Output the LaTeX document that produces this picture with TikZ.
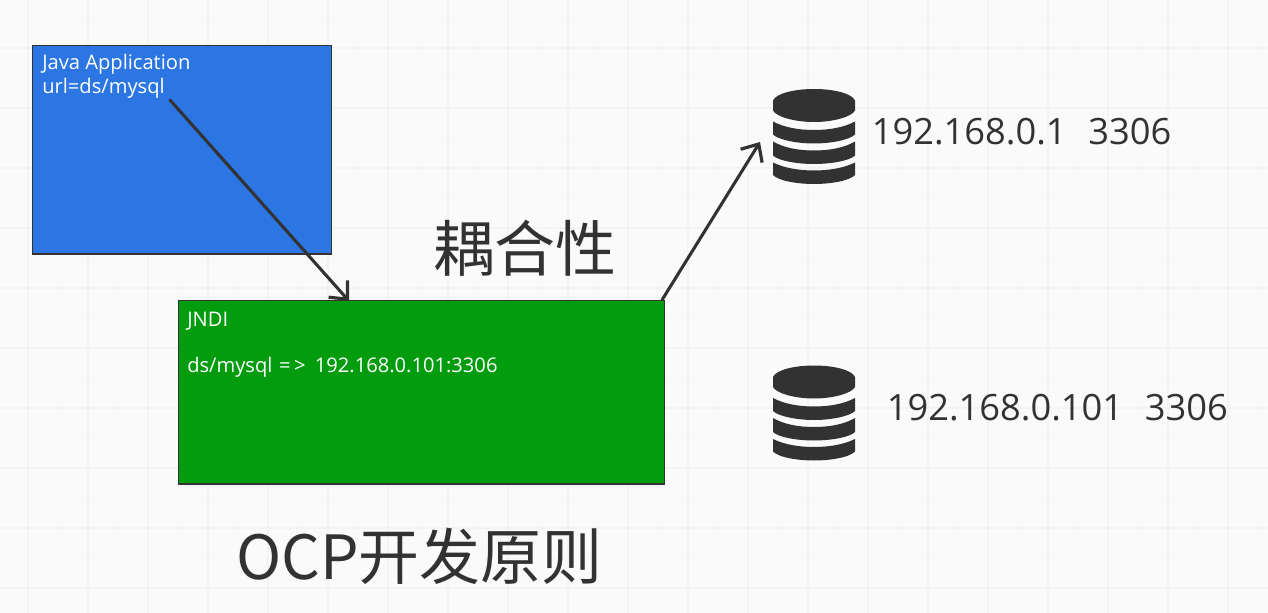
\documentclass[tikz,border=0pt]{standalone}
\usepackage{fontspec}
\setmainfont{Open Sans}
\newfontfamily\cjk{Noto Sans CJK SC}
\usetikzlibrary{arrows.meta}

\definecolor{inkgrey}{HTML}{323232}
\definecolor{appblue}{HTML}{2B76E3}
\definecolor{jndigreen}{HTML}{029C0E}
\definecolor{paper}{HTML}{FAFAFA}
\definecolor{gridminor}{HTML}{F7F7F7}
\definecolor{gridmajor}{HTML}{F3F3F3}

\tikzset{
    box/.style={draw=inkgrey, line width=1pt, anchor=north west, inner sep=0pt, outer sep=0pt},
    boxtext/.style={anchor=base west, inner sep=0pt, text=white, font=\fontsize{15.1}{17}\selectfont},
    iptext/.style={anchor=base west, inner sep=0pt, text=inkgrey, font=\fontsize{27.2}{32}\selectfont},
    bigtext/.style={anchor=base west, inner sep=0pt, text=inkgrey, font=\cjk\fontsize{45.7}{54}\selectfont},
    link/.style={draw=inkgrey, line width=2.3pt, line cap=round, -{Straight Barb[length=10.5pt, width=19pt, line width=2.4pt]}},
    dbicon/.pic={
        \fill[inkgrey] (-41,-5) .. controls (-38,-12) and (-20,-16.5) .. (0,-16.5) .. controls (20,-16.5) and (38,-12) .. (41,-5)
            -- (41,5) .. controls (38,11) and (20,16.5) .. (0,16.5) .. controls (-20,16.5) and (-38,11) .. (-41,5) -- cycle;
        \fill[inkgrey] (-41,16) .. controls (-30,22) and (-15,24.5) .. (0,24.5) .. controls (15,24.5) and (30,22) .. (41,16)
            -- (41,29) .. controls (36,34) and (18,38) .. (0,38) .. controls (-18,38) and (-36,34) .. (-41,29) -- cycle;
        \fill[inkgrey] (-41,36) .. controls (-30,42.5) and (-15,45) .. (0,45) .. controls (15,45) and (30,42.5) .. (41,36)
            -- (41,50) .. controls (36,55) and (18,58.5) .. (0,58.5) .. controls (-18,58.5) and (-36,55) .. (-41,50) -- cycle;
        \fill[inkgrey] (-41,57) .. controls (-30,62.5) and (-15,65) .. (0,65) .. controls (15,65) and (30,62.5) .. (41,57)
            -- (41,69.5) .. controls (36,75) and (18,78.5) .. (0,78.5) .. controls (-18,78.5) and (-36,75) .. (-41,69.5) -- cycle;
    },
}

\begin{document}
\begin{tikzpicture}[x=0.75pt, y=-0.75pt]

    % page and grid
    \fill[paper] (0,0) rectangle (1268,613);
    \useasboundingbox (0,0) rectangle (1268,613);
    \foreach \gx in {-2,58,...,1258} {
        \draw[gridminor, line width=0.75pt] (\gx,0) -- (\gx,613);
    }
    \foreach \gy in {18,78,...,600} {
        \draw[gridminor, line width=0.75pt] (0,\gy) -- (1268,\gy);
    }
    \foreach \gx in {28,88,...,1258} {
        \draw[gridmajor, line width=1pt] (\gx,0) -- (\gx,613);
    }
    \foreach \gy in {48,108,...,600} {
        \draw[gridmajor, line width=1pt] (0,\gy) -- (1268,\gy);
    }

    % boxes
    \node[box, fill=appblue, minimum width=224.25pt, minimum height=156.4pt] (app) at (32.5,45.5) {};
    \node[box, fill=jndigreen, minimum width=364.5pt, minimum height=137.6pt] (jndi) at (178.5,300.5) {};

    \node[boxtext] (appname) at (42,70) {Java Application};
    \node[boxtext] (appurl) at (42,94) {url=ds/mysql};
    \node[boxtext] (jndiname) at (187,326) {JNDI};
    \node[boxtext] (jndimap) at (187,372) {ds/mysql\hspace{5pt}=\hspace{2.5pt}>\hspace{7pt}192.168.0.101:3306};

    % databases
    \pic at (814,105.5) {dbicon};
    \pic at (814,382) {dbicon};
    \coordinate (dbone) at (760,142);
    \node[iptext] (ipone) at (871.5,145) {192.168.0.1\hspace{0.6em}3306};
    \node[iptext] (iptwo) at (886.5,420) {192.168.0.101\hspace{0.6em}3306};

    % big labels
    \node[bigtext] (coupling) at (433,272) {耦合性};
    \node[bigtext] (ocp) at (236,579) {OCP开发原则};

    % links
    \coordinate (urlend) at (170,100);
    \coordinate (jndiin) at (349,301);
    \coordinate (jndiout) at (662,300);
    \draw[link] (urlend) -- (jndiin);
    \draw[link] (jndiout) -- (dbone);

\end{tikzpicture}
\end{document}
